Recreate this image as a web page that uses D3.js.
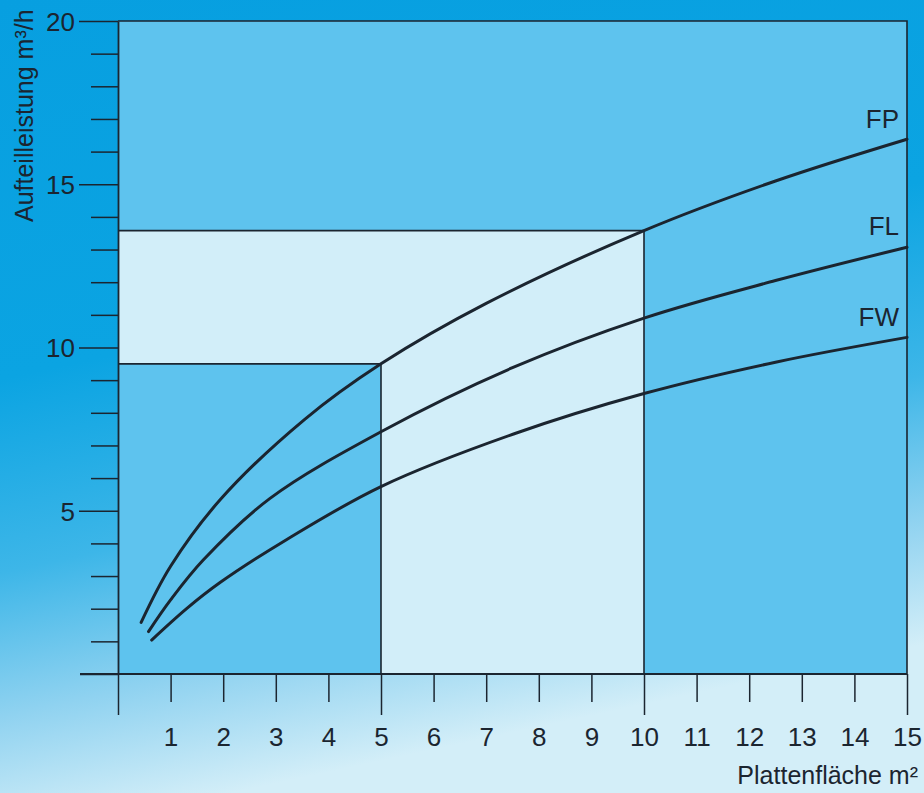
<!DOCTYPE html>
<html><head><meta charset="utf-8">
<script src="https://cdn.jsdelivr.net/npm/d3@7"></script>
<style>html,body{margin:0;padding:0;overflow:hidden;background:#0aa0e0}</style>
</head><body>
<script>
// Data
const xTicks = [0,1,2,3,4,5,6,7,8,9,10,11,12,13,14,15];
const xLabels = ["","1","2","3","4","5","6","7","8","9","10","11","12","13","14","15"];
const yTicks = [0,1,2,3,4,5,6,7,8,9,10,11,12,13,14,15,16,17,18,19,20];
const yLabels = ["5","10","15","20"];
const seriesNames = ["FP","FL","FW"];
const fpX = [0.44, 1.0, 1.95, 3.55, 5, 7, 10, 12.5, 15];
const fpY = [1.58, 3.3, 5.35, 7.8, 9.5, 11.35, 13.58, 15.1, 16.38];
const flX = [0.58, 1.0, 1.62, 2.89, 5, 7.5, 10, 12.5, 15];
const flY = [1.3, 2.27, 3.49, 5.38, 7.42, 9.38, 10.9, 12.05, 13.07];
const fwX = [0.64, 1.31, 1.94, 3.21, 5, 7.52, 10, 12.5, 15];
const fwY = [1.04, 2.01, 2.8, 4.12, 5.74, 7.35, 8.59, 9.55, 10.31];
const markX = [5, 10];          // reference areas read at these x
const markY = [9.5, 13.58];     // FP values at those x
const labelY = [16.72, 13.45, 10.66]; // baseline level of FP / FL / FW labels

const W = 924, H = 793;
const svg = d3.select("body").append("svg").attr("width", W).attr("height", H);
const defs = svg.append("defs");
const g1 = defs.append("linearGradient").attr("id","bg").attr("x1",0).attr("y1",0).attr("x2",0.25).attr("y2",1);
[[0,"#079fe0"],[0.45,"#0ba4e2"],[0.68,"#3db6e8"],[0.85,"#8fd2f0"],[1,"#d3eef8"]]
  .forEach(s=>g1.append("stop").attr("offset",s[0]).attr("stop-color",s[1]));
svg.append("rect").attr("width",W).attr("height",H).attr("fill","url(#bg)");

const x = d3.scaleLinear().domain([0,15]).range([118,907]);
const y = d3.scaleLinear().domain([0,20]).range([674,21]);
const font = "'Liberation Sans Narrow','Liberation Sans',Arial,sans-serif";
const ink = "#1b2530";

// plot area
svg.append("rect").attr("x",x(0)).attr("y",y(20)).attr("width",x(15)-x(0)).attr("height",y(0)-y(20)).attr("fill","#5ec3ee");
// light L-shaped area
const light = `M${x(0)},${y(markY[1])}H${x(markX[1])}V${y(0)}H${x(markX[0])}V${y(markY[0])}H${x(0)}Z`;
svg.append("path").attr("d",light).attr("fill","#d2eef9");

// frame lines
const lines = svg.append("g").attr("stroke",ink).attr("stroke-width",1.6).attr("fill","none");
lines.append("path").attr("d",`M${x(0)},${y(20)}H${x(15)}V${y(0)}`);
lines.append("path").attr("d",`M${x(0)},${y(markY[1])}H${x(markX[1])}V${y(0)}`);
lines.append("path").attr("d",`M${x(0)},${y(markY[0])}H${x(markX[0])}V${y(0)}`);

// y axis
const yAxis = d3.axisLeft(y).tickValues(yTicks).tickFormat("").tickSizeOuter(0).tickSize(0);
const ya = svg.append("g").attr("transform",`translate(${x(0)},0)`).call(yAxis);
ya.select(".domain").attr("stroke",ink).attr("stroke-width",1.8);
ya.selectAll(".tick line").attr("stroke",ink).attr("stroke-width",1.5)
  .attr("x2", d => d===0 ? -38 : (d%5===0 ? -39 : -27));
ya.selectAll(".tick").filter(d=>d%5===0 && d>0).append("text")
  .attr("x",-43).attr("dy","0.36em").attr("text-anchor","end").attr("fill",ink)
  .style("font-family",font).style("font-size","26px")
  .text(d=>yLabels[d/5-1]);

// x axis
const xAxis = d3.axisBottom(x).tickValues(xTicks).tickFormat("").tickSizeOuter(0).tickSize(0);
const xa = svg.append("g").attr("transform",`translate(0,${y(0)})`).call(xAxis);
xa.select(".domain").remove();
xa.append("line").attr("x1",80).attr("x2",x(15)).attr("stroke",ink).attr("stroke-width",1.8);
xa.selectAll(".tick line").attr("stroke",ink).attr("stroke-width",1.5)
  .attr("y2", d => d%5===0 ? 41 : 28);
xa.selectAll(".tick").append("text").attr("y",72).attr("text-anchor","middle").attr("fill",ink)
  .style("font-family",font).style("font-size","26px").text((d,i)=>xLabels[i]);

// curves
const line = d3.line().x(d=>x(d[0])).y(d=>y(d[1])).curve(d3.curveCatmullRom.alpha(0.5));
const series = [d3.zip(fpX,fpY), d3.zip(flX,flY), d3.zip(fwX,fwY)];
svg.append("g").selectAll("path").data(series).join("path")
  .attr("d",line).attr("fill","none").attr("stroke",ink).attr("stroke-width",3).attr("stroke-linecap","round");

// series labels
svg.append("g").selectAll("text").data(seriesNames).join("text")
  .attr("x",899).attr("y",(d,i)=>y(labelY[i])).attr("text-anchor","end").attr("fill",ink)
  .style("font-family",font).style("font-size","26px").text(d=>d);

// axis titles
svg.append("text").attr("transform","translate(33,222) rotate(-90)").attr("fill",ink)
  .style("font-family",font).style("font-size","25px").text("Aufteilleistung m³/h");
svg.append("text").attr("x",918).attr("y",784).attr("text-anchor","end").attr("fill",ink)
  .style("font-family",font).style("font-size","25px").text("Plattenfläche m²");
</script>
</body></html>
